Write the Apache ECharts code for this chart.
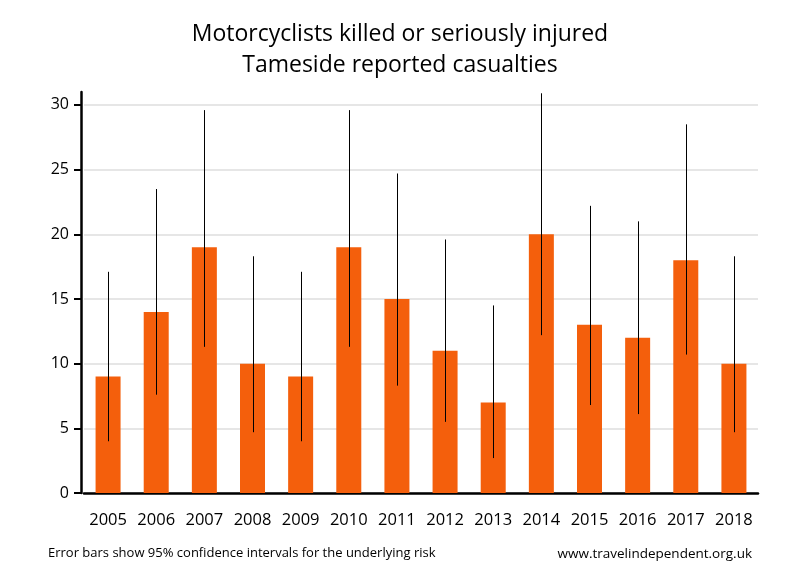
<!DOCTYPE html>
<html><head><meta charset="utf-8">
<script src="https://cdn.jsdelivr.net/npm/echarts@6/dist/echarts.min.js"></script>
<style>html,body{margin:0;padding:0;background:#fff}#c{width:800px;height:580px}</style>
</head><body><div id="c"></div>
<script>
const years = ['2005','2006','2007','2008','2009','2010','2011','2012','2013','2014','2015','2016','2017','2018'];
const casualties = [9,14,19,10,9,19,15,11,7,20,13,12,18,10];
const lowerCI = [4.0,7.6,11.3,4.7,4.0,11.3,8.3,5.5,2.7,12.2,6.8,6.1,10.7,4.7];
const upperCI = [17.1,23.5,29.6,18.3,17.1,29.6,24.7,19.6,14.5,30.9,22.2,21.0,28.5,18.3];
const yTicks = [0,5,10,15,20,25,30];
const font = '"Open Sans", "Noto Sans", sans-serif';

const chart = echarts.init(document.getElementById('c'));
chart.setOption({
  animation: false,
  backgroundColor: '#fff',
  title: [
    {text: 'Motorcyclists killed or seriously injured\nTameside reported casualties', left: 'center', top: 14,
     textStyle: {fontFamily: font, fontSize: 23, fontWeight: 'normal', color: '#000', lineHeight: 31}},
  ],
  graphic: [
    {type: 'text', left: 48, top: 547, style: {text: 'Error bars show 95% confidence intervals for the underlying risk', fontFamily: font, fontSize: 13, fill: '#000'}},
    {type: 'text', right: 48, top: 547, style: {text: 'www.travelindependent.org.uk', fontFamily: font, fontSize: 13.5, fill: '#000'}}
  ],
  grid: {left: 84, right: 42, top: 92, bottom: 87},
  xAxis: {
    type: 'category', data: years,
    axisLine: {lineStyle: {color: '#000', width: 2.5}},
    axisTick: {show: false},
    axisLabel: {fontFamily: font, fontSize: 16.5, color: '#000', margin: 19, interval: 0}
  },
  yAxis: {
    type: 'value', min: 0, max: 31, interval: 5, offset: 3,
    axisLine: {show: true, lineStyle: {color: '#000', width: 2.5}},
    axisTick: {show: true, length: 7, customValues: yTicks, lineStyle: {color: '#000', width: 2}},
    axisLabel: {fontFamily: font, fontSize: 16, color: '#000', margin: 12, customValues: yTicks},
    splitLine: {show: true, lineStyle: {color: '#e6e6e6', width: 2}}
  },
  series: [
    {type: 'bar', data: casualties, barWidth: 25, itemStyle: {color: '#f45f0c'}},
    {type: 'custom', z: 5,
     data: years.map((y, i) => [i, lowerCI[i], upperCI[i]]),
     renderItem: function (params, api) {
       const lo = api.coord([api.value(0), api.value(1)]);
       const hi = api.coord([api.value(0), api.value(2)]);
       const x = Math.round(lo[0]) + 0.5;
       return {type: 'line', shape: {x1: x, y1: lo[1], x2: x, y2: hi[1]}, style: {stroke: '#000', lineWidth: 1}};
     }}
  ]
});
</script></body></html>
